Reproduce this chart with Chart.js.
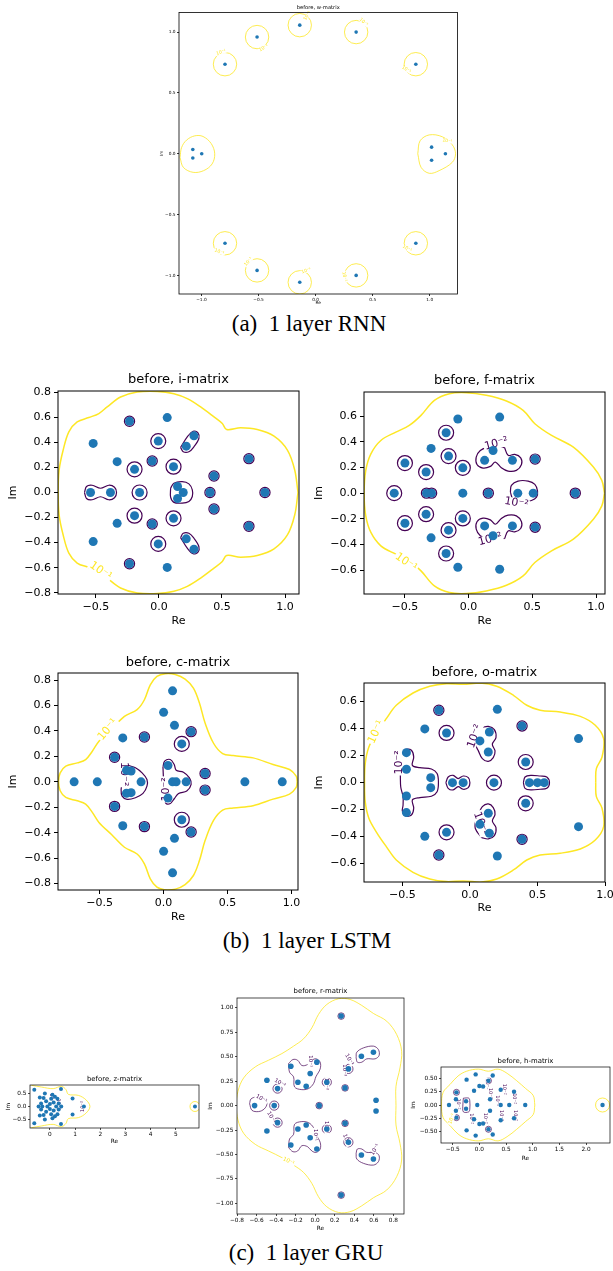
<!DOCTYPE html>
<html><head><meta charset="utf-8">
<script src="https://cdn.jsdelivr.net/npm/chart.js@4.4.1/dist/chart.umd.min.js"></script>
<style>
html,body{margin:0;padding:0;background:#fff;overflow:hidden;width:613px;height:1271px;}
.cap{position:absolute;font-family:'Liberation Serif','Times New Roman',serif;font-size:23px;line-height:23px;white-space:pre;color:#000;transform:translateX(-50%);}
</style></head><body>
<div class="cap" style="left:309px;top:312px">(a)  1 layer RNN</div>
<div class="cap" style="left:307px;top:929px">(b)  1 layer LSTM</div>
<div class="cap" style="left:306px;top:1241px">(c)  1 layer GRU</div>
<script>
// ---------- (a) RNN, w-matrix ----------
const wPoints=[[-0.513,0.959],[-0.139,1.057],[0.355,1.0],[0.878,0.736],[-0.794,0.736],[-1.076,0.035],[-1.076,-0.035],[-0.998,0],[1.016,0.054],[1.016,-0.054],[1.137,0],[-0.794,-0.736],[0.878,-0.736],[-0.513,-0.959],[-0.139,-1.057],[0.355,-1.0]];
const wRingsYellow=[[-0.513,0.959],[-0.139,1.057],[0.355,1.0],[0.878,0.736],[-0.794,0.736],[-0.794,-0.736],[0.878,-0.736],[-0.513,-0.959],[-0.139,-1.057],[0.355,-1.0]];
const wYellowL=[[-1.188,-0.030],[-1.174,0.052],[-1.131,0.112],[-1.059,0.147],[-0.987,0.142],[-0.915,0.084],[-0.884,0],[-0.907,-0.084],[-0.981,-0.139],[-1.073,-0.153],[-1.159,-0.112],[-1.188,-0.030]];
const wYellowR=[[0.895,0],[0.915,0.106],[0.996,0.155],[1.111,0.139],[1.197,0.074],[1.226,0],[1.197,-0.071],[1.082,-0.139],[0.996,-0.161],[0.924,-0.112],[0.895,0]];
const wLabels=[[-0.073,1.136,'10⁻¹',-60,'Y'],[-0.455,0.869,'10⁻¹',-30,'Y'],[-0.829,0.834,'10⁻¹',-20,'Y'],[0.421,1.082,'10⁻¹',40,'Y'],[0.795,0.692,'10⁻¹',30,'Y'],[1.154,0.106,'10⁻¹',10,'Y'],[-0.843,-0.807,'10⁻¹',20,'Y'],[-0.589,-0.888,'10⁻¹',-50,'Y'],[-0.082,-0.962,'10⁻¹',-20,'Y'],[0.254,-1.011,'10⁻¹',80,'Y'],[0.801,-0.779,'10⁻¹',30,'Y']];
const wXTicks=[-1,-0.5,0,0.5,1], wYTicks=[-1,-0.5,0,0.5,1];

// ---------- (b) LSTM, i-matrix ----------
const iPoints=[[-0.521,0.392],[-0.521,-0.392],[-0.233,0.569],[-0.233,-0.569],[0.066,0.598],[0.066,-0.598],[-0.005,0.410],[-0.005,-0.410],[0.217,0.370],[0.217,-0.370],[0.278,0.452],[0.278,-0.452],[-0.331,0.246],[-0.331,-0.246],[-0.053,0.251],[-0.053,-0.251],[-0.193,0.185],[-0.193,-0.185],[0.116,0.206],[0.116,-0.206],[0.437,0.132],[0.437,-0.132],[0.714,0.270],[0.714,-0.270],[-0.542,0],[-0.384,0],[-0.153,0],[0.148,0.048],[0.148,-0.048],[0.193,0],[0.405,0],[0.841,0]];
const iRings=[[-0.005,0.410],[-0.005,-0.410],[-0.193,0.185],[-0.193,-0.185],[0.116,0.206],[0.116,-0.206],[-0.153,0]];
const iTight=[[-0.233,0.569],[-0.233,-0.569],[-0.053,0.251],[-0.053,-0.251],[0.714,0.270],[0.714,-0.270],[0.437,0.132],[0.437,-0.132],[0.405,0],[0.841,0]];
const iYellow=[[1.103,0],[1.077,0.180],[1.019,0.339],[0.913,0.450],[0.780,0.503],[0.648,0.516],[0.537,0.503],[0.503,0.550],[0.437,0.603],[0.331,0.683],[0.225,0.749],[0.119,0.788],[-0.013,0.807],[-0.172,0.802],[-0.304,0.762],[-0.410,0.683],[-0.476,0.630],[-0.556,0.598],[-0.648,0.563],[-0.714,0.484],[-0.759,0.339],[-0.791,0.180],[-0.799,0],[-0.791,-0.180],[-0.759,-0.339],[-0.714,-0.484],[-0.648,-0.563],[-0.556,-0.598],[-0.476,-0.630],[-0.410,-0.683],[-0.304,-0.762],[-0.172,-0.802],[-0.013,-0.807],[0.119,-0.788],[0.225,-0.749],[0.331,-0.683],[0.437,-0.603],[0.503,-0.550],[0.537,-0.503],[0.648,-0.516],[0.780,-0.503],[0.913,-0.450],[1.019,-0.339],[1.077,-0.180],[1.103,0]];
const iPurplePair=[[-0.590,0],[-0.574,0.048],[-0.529,0.058],[-0.463,0.034],[-0.397,0.058],[-0.352,0.042],[-0.336,0],[-0.352,-0.042],[-0.397,-0.058],[-0.463,-0.034],[-0.529,-0.058],[-0.574,-0.048],[-0.590,0]];
const iPurpleCenter=[[0.093,0.034],[0.119,0.074],[0.185,0.087],[0.238,0.069],[0.265,0.021],[0.265,-0.032],[0.238,-0.071],[0.185,-0.085],[0.119,-0.079],[0.093,-0.037],[0.093,0.034]];
const iPurpleUp=[[0.172,0.360],[0.225,0.444],[0.272,0.489],[0.310,0.476],[0.317,0.431],[0.278,0.365],[0.238,0.325],[0.193,0.325],[0.172,0.360]];
const iPurpleDown=[[0.172,-0.360],[0.225,-0.444],[0.272,-0.489],[0.310,-0.476],[0.317,-0.431],[0.278,-0.365],[0.238,-0.325],[0.193,-0.325],[0.172,-0.360]];
const iLabels=[[-0.463,-0.627,'10⁻¹',35,'Y']];
const iXTicks=[-0.5,0,0.5,1], iYTicks=[-0.8,-0.6,-0.4,-0.2,0,0.2,0.4,0.6,0.8];

// ---------- (b) LSTM, f-matrix ----------
const fPoints=[[-0.084,0.577],[-0.084,-0.577],[0.244,0.592],[0.244,-0.592],[-0.176,0.470],[-0.176,-0.470],[-0.294,0.348],[-0.294,-0.348],[-0.157,0.288],[-0.157,-0.288],[-0.499,0.234],[-0.499,-0.234],[-0.333,0.164],[-0.333,-0.164],[-0.045,0.197],[-0.045,-0.197],[0.192,0.332],[0.192,-0.332],[0.126,0.255],[0.126,-0.255],[0.344,0.255],[0.344,-0.255],[0.522,0.265],[0.522,-0.265],[-0.583,0],[-0.33,0],[-0.29,0],[-0.045,0],[0.155,0],[0.386,0],[0.507,0],[0.837,0]];
const fRings=[[-0.176,0.470],[-0.176,-0.470],[-0.157,0.288],[-0.157,-0.288],[-0.499,0.234],[-0.499,-0.234],[-0.333,0.164],[-0.333,-0.164],[-0.045,0.197],[-0.045,-0.197],[-0.583,0]];
const fTight=[[0.155,0],[0.837,0],[0.522,0.265],[0.522,-0.265],[-0.33,0],[-0.29,0]];
const fYellow=[[1.066,0],[1.045,0.099],[0.979,0.203],[0.822,0.358],[0.651,0.449],[0.520,0.540],[0.428,0.644],[0.297,0.717],[0.139,0.761],[-0.018,0.782],[-0.150,0.774],[-0.268,0.722],[-0.373,0.605],[-0.465,0.527],[-0.570,0.475],[-0.688,0.410],[-0.766,0.306],[-0.806,0.177],[-0.819,0],[-0.806,-0.177],[-0.766,-0.306],[-0.688,-0.410],[-0.570,-0.475],[-0.465,-0.527],[-0.373,-0.605],[-0.268,-0.722],[-0.150,-0.774],[-0.018,-0.782],[0.139,-0.761],[0.297,-0.717],[0.428,-0.644],[0.520,-0.540],[0.651,-0.449],[0.822,-0.358],[0.979,-0.203],[1.045,-0.099],[1.066,0]];
const fPurpleUp=[[0.283,0.353],[0.310,0.294],[0.362,0.301],[0.409,0.275],[0.415,0.223],[0.375,0.177],[0.310,0.171],[0.257,0.197],[0.210,0.242],[0.171,0.208],[0.113,0.195],[0.066,0.223],[0.060,0.281],[0.092,0.332],[0.152,0.358],[0.218,0.370],[0.283,0.353]];
const fPurpleDown=[[0.283,-0.353],[0.310,-0.294],[0.362,-0.301],[0.409,-0.275],[0.415,-0.223],[0.375,-0.177],[0.310,-0.171],[0.257,-0.197],[0.210,-0.242],[0.171,-0.208],[0.113,-0.195],[0.066,-0.223],[0.060,-0.281],[0.092,-0.332],[0.152,-0.358],[0.218,-0.370],[0.283,-0.353]];
const fPurpleMid=[[0.328,0.008],[0.336,0.060],[0.388,0.094],[0.467,0.094],[0.520,0.068],[0.541,0.016],[0.533,-0.031],[0.493,-0.057],[0.420,-0.070],[0.350,-0.050],[0.328,0.008]];
const fLabels=[[-0.491,-0.538,'10⁻¹',35,'Y'],[0.218,0.384,'10⁻²',-15,'P'],[0.375,-0.078,'10⁻²',10,'P'],[0.17,-0.36,'10⁻²',-15,'P']];
const fXTicks=[-0.5,0,0.5,1], fYTicks=[-0.6,-0.4,-0.2,0,0.2,0.4,0.6];

// ---------- (b) LSTM, c-matrix ----------
const cPoints=[[0.070,0.715],[0.070,-0.715],[0.0,0.546],[0.0,-0.546],[0.085,0.444],[0.085,-0.444],[0.215,0.394],[0.215,-0.394],[0.142,0.298],[0.142,-0.298],[-0.319,0.345],[-0.319,-0.345],[-0.150,0.352],[-0.150,-0.352],[-0.383,0.193],[-0.383,-0.193],[-0.254,0.085],[-0.254,-0.085],[-0.29,0.09],[-0.29,-0.09],[0.034,0.128],[0.034,-0.128],[0.324,0.065],[0.324,-0.065],[-0.699,0],[-0.518,0],[-0.176,0],[0.070,0],[0.098,0],[0.176,0],[0.635,0],[0.927,0]];
const cRings=[[0.142,0.298],[0.142,-0.298]];
const cTight=[[0.215,0.394],[0.215,-0.394],[-0.150,0.352],[-0.150,-0.352],[-0.383,0.193],[-0.383,-0.193],[0.324,0.065],[0.324,-0.065]];
const cYellow=[[1.044,0],[1.036,0.044],[0.984,0.097],[0.855,0.136],[0.699,0.188],[0.544,0.206],[0.461,0.222],[0.389,0.305],[0.324,0.462],[0.280,0.619],[0.233,0.736],[0.168,0.807],[0.091,0.843],[0.013,0.849],[-0.052,0.828],[-0.104,0.762],[-0.150,0.645],[-0.207,0.567],[-0.306,0.514],[-0.405,0.416],[-0.505,0.319],[-0.557,0.240],[-0.609,0.175],[-0.674,0.149],[-0.764,0.123],[-0.808,0.070],[-0.821,0],[-0.808,-0.070],[-0.764,-0.123],[-0.674,-0.149],[-0.609,-0.175],[-0.557,-0.240],[-0.505,-0.319],[-0.405,-0.416],[-0.306,-0.514],[-0.207,-0.567],[-0.150,-0.645],[-0.104,-0.762],[-0.052,-0.828],[0.013,-0.849],[0.091,-0.843],[0.168,-0.807],[0.233,-0.736],[0.280,-0.619],[0.324,-0.462],[0.389,-0.305],[0.461,-0.222],[0.544,-0.206],[0.699,-0.188],[0.855,-0.136],[0.984,-0.097],[1.036,-0.044],[1.044,0]];
const cPurpleLeft=[[-0.272,0.128],[-0.220,0.110],[-0.168,0.070],[-0.130,0.018],[-0.130,-0.034],[-0.161,-0.091],[-0.220,-0.125],[-0.285,-0.138],[-0.324,-0.112],[-0.332,-0.060],[-0.32,0.0],[-0.30,0.09],[-0.272,0.128]];
const cPurpleMid=[[-0.005,0.117],[0.008,0.162],[0.052,0.175],[0.083,0.136],[0.098,0.091],[0.155,0.076],[0.202,0.031],[0.215,-0.021],[0.181,-0.073],[0.117,-0.091],[0.083,-0.133],[0.052,-0.170],[0.018,-0.170],[0.005,-0.10],[0.0,0.0],[-0.005,0.117]];
const cLabels=[[-0.435,0.410,'10⁻¹',-50,'Y'],[-0.31,0.06,'10⁻²',90,'P'],[0.018,-0.06,'10⁻²',-90,'P']];
const cXTicks=[-0.5,0,0.5,1], cYTicks=[-0.8,-0.6,-0.4,-0.2,0,0.2,0.4,0.6,0.8];

// ---------- (b) LSTM, o-matrix ----------
const oPoints=[[-0.230,0.536],[-0.230,-0.536],[0.203,0.543],[0.203,-0.543],[-0.334,0.398],[-0.334,-0.398],[-0.173,0.368],[-0.173,-0.368],[0.074,0.309],[0.074,-0.309],[0.144,0.375],[0.144,-0.375],[0.136,0.227],[0.136,-0.227],[0.386,0.420],[0.386,-0.420],[0.413,0.153],[0.413,-0.153],[0.804,0.326],[0.804,-0.326],[-0.470,0.222],[-0.470,-0.222],[-0.470,0.099],[-0.470,-0.099],[-0.290,0.037],[-0.290,-0.037],[-0.129,0],[-0.050,0],[0.178,0],[0.441,0],[0.500,0],[0.550,0]];
const oRings=[[-0.173,0.368],[-0.173,-0.368],[0.413,0.153],[0.413,-0.153],[0.178,0]];
const oTight=[[-0.230,0.536],[-0.230,-0.536],[0.386,0.420],[0.386,-0.420]];
const oYellow=[[0.931,0],[0.936,0.104],[0.978,0.190],[0.990,0.326],[0.928,0.425],[0.817,0.491],[0.668,0.523],[0.520,0.536],[0.421,0.573],[0.322,0.647],[0.198,0.714],[0.074,0.738],[-0.050,0.728],[-0.173,0.733],[-0.297,0.714],[-0.421,0.664],[-0.545,0.573],[-0.619,0.474],[-0.690,0.370],[-0.748,0.264],[-0.775,0.141],[-0.780,0],[-0.775,-0.141],[-0.748,-0.264],[-0.690,-0.370],[-0.619,-0.474],[-0.545,-0.573],[-0.421,-0.664],[-0.297,-0.714],[-0.173,-0.733],[-0.050,-0.728],[0.074,-0.738],[0.198,-0.714],[0.322,-0.647],[0.421,-0.573],[0.520,-0.536],[0.668,-0.523],[0.817,-0.491],[0.928,-0.425],[0.990,-0.326],[0.978,-0.190],[0.936,-0.104],[0.931,0]];
const oPurpleLeft=[[-0.515,0.054],[-0.512,-0.032],[-0.495,-0.106],[-0.495,-0.168],[-0.500,-0.210],[-0.475,-0.247],[-0.433,-0.240],[-0.416,-0.190],[-0.426,-0.128],[-0.371,-0.111],[-0.285,-0.101],[-0.243,-0.067],[-0.233,0],[-0.243,0.067],[-0.285,0.101],[-0.371,0.111],[-0.426,0.128],[-0.416,0.190],[-0.433,0.240],[-0.475,0.247],[-0.500,0.227],[-0.510,0.170],[-0.515,0.054]];
const oPurplePair=[[-0.178,0],[-0.161,0.042],[-0.124,0.054],[-0.087,0.030],[-0.050,0.049],[-0.012,0.037],[0,0],[-0.012,-0.037],[-0.050,-0.049],[-0.087,-0.030],[-0.124,-0.054],[-0.161,-0.042],[-0.178,0]];
const oPurpleTriple=[[0.396,0],[0.408,0.042],[0.450,0.054],[0.520,0.049],[0.569,0.042],[0.589,0],[0.569,-0.042],[0.520,-0.049],[0.450,-0.054],[0.408,-0.042],[0.396,0]];
const oPurpleUp=[[0.087,0.407],[0.136,0.417],[0.181,0.393],[0.193,0.333],[0.166,0.284],[0.186,0.235],[0.173,0.185],[0.136,0.158],[0.092,0.178],[0.062,0.237],[0.045,0.272],[0.040,0.340],[0.087,0.407]];
const oPurpleDown=[[0.087,-0.407],[0.136,-0.417],[0.181,-0.393],[0.193,-0.333],[0.166,-0.284],[0.186,-0.235],[0.173,-0.185],[0.136,-0.158],[0.092,-0.178],[0.062,-0.237],[0.045,-0.272],[0.040,-0.340],[0.087,-0.407]];
const oLabels=[[-0.693,0.375,'10⁻¹',-65,'Y'],[-0.525,0.15,'10⁻²',-90,'P'],[0.037,0.343,'10⁻²',-70,'P'],[0.079,-0.304,'10⁻²',70,'P']];
const oXTicks=[-0.5,0,0.5,1], oYTicks=[-0.6,-0.4,-0.2,0,0.2,0.4,0.6];

// ---------- (c) GRU, z-matrix ----------
const zPoints=[[-0.62,0.65],[-0.62,-0.65],[0.44,0.68],[0.44,-0.68],[0.90,0.31],[0.90,-0.31],[1.35,0],[5.76,0],[-0.45,0],[-0.35,0.12],[-0.35,-0.12],[-0.25,0.33],[-0.25,-0.33],[-0.2,0.5],[-0.2,-0.5],[-0.15,0.2],[-0.15,-0.2],[-0.1,0],[0.0,0.1],[0.0,-0.1],[0.05,0.3],[0.05,-0.3],[0.1,0.45],[0.1,-0.45],[0.15,0.15],[0.15,-0.15],[0.25,0],[0.3,0.3],[0.3,-0.3],[0.35,0.12],[0.35,-0.12],[0.45,0],[-0.3,0],[-0.4,0.35],[-0.4,-0.35],[0.2,0.38],[0.2,-0.38]];
const zRingsYellow=[[5.76,0]];
const zYellow=[[-0.74,0.82],[-0.33,0.75],[0.13,0.69],[0.46,0.78],[0.64,0.65],[0.73,0.47],[1.13,0.43],[1.43,0.26],[1.59,0],[1.43,-0.26],[1.13,-0.43],[0.73,-0.47],[0.64,-0.65],[0.46,-0.78],[0.13,-0.69],[-0.33,-0.75],[-0.74,-0.82]];
const zLabels=[[0.05,0.3,'10⁻²',90,'P'],[0.35,0.1,'10⁻²',90,'P'],[1.3,0,'10⁻²',-90,'P']];
const zXTicks=[0,1,2,3,4,5], zYTicks=[-0.5,0,0.5];

// ---------- (c) GRU, r-matrix ----------
const rPoints=[[0.266,0.915],[0.266,-0.915],[0.596,0.546],[0.596,-0.546],[0.473,0.505],[0.473,-0.505],[0.340,0.375],[0.340,-0.375],[-0.249,0.403],[-0.249,-0.403],[0.017,0.444],[0.017,-0.444],[-0.051,0.328],[-0.051,-0.328],[-0.177,0.239],[-0.177,-0.239],[-0.092,0.198],[-0.092,-0.198],[0.119,0.239],[0.119,-0.239],[0.306,0.181],[0.306,-0.181],[-0.494,0.259],[-0.494,-0.259],[-0.385,0.174],[-0.385,-0.174],[0.623,0.055],[0.623,-0.055],[-0.620,0],[-0.419,0],[0.041,0]];
const rRings=[[0.340,0.375],[0.340,-0.375],[0.119,0.239],[0.119,-0.239],[-0.385,0.174],[-0.385,-0.174],[-0.419,0]];
const rTight=[[0.266,0.915],[0.266,-0.915],[0.306,0.181],[0.306,-0.181],[0.041,0]];
const rYellow=[[0.827,0],[0.827,0.198],[0.868,0.386],[0.885,0.556],[0.834,0.727],[0.732,0.863],[0.596,0.942],[0.477,1.024],[0.357,1.085],[0.238,1.092],[0.119,1.034],[0.034,0.932],[-0.034,0.795],[-0.119,0.683],[-0.221,0.608],[-0.340,0.532],[-0.477,0.464],[-0.613,0.396],[-0.732,0.283],[-0.790,0.147],[-0.807,0],[-0.790,-0.147],[-0.732,-0.283],[-0.613,-0.396],[-0.477,-0.464],[-0.340,-0.532],[-0.221,-0.608],[-0.119,-0.683],[-0.034,-0.795],[0.034,-0.932],[0.119,-1.034],[0.238,-1.092],[0.357,-1.085],[0.477,-1.024],[0.596,-0.942],[0.732,-0.863],[0.834,-0.727],[0.885,-0.556],[0.868,-0.386],[0.827,-0.198],[0.827,0]];
const rPurpleUR=[[0.419,0.488],[0.426,0.546],[0.494,0.590],[0.596,0.608],[0.647,0.573],[0.654,0.512],[0.613,0.478],[0.528,0.478],[0.477,0.444],[0.432,0.444],[0.419,0.488]];
const rPurpleLR=[[0.419,-0.488],[0.426,-0.546],[0.494,-0.590],[0.596,-0.608],[0.647,-0.573],[0.654,-0.512],[0.613,-0.478],[0.528,-0.478],[0.477,-0.444],[0.432,-0.444],[0.419,-0.488]];
const rPurpleUL=[[-0.272,0.430],[-0.228,0.471],[-0.180,0.464],[-0.136,0.410],[-0.078,0.420],[-0.034,0.464],[0.010,0.478],[0.051,0.444],[0.051,0.375],[0.007,0.294],[-0.017,0.225],[-0.068,0.174],[-0.143,0.164],[-0.211,0.191],[-0.221,0.294],[-0.262,0.341],[-0.272,0.430]];
const rPurpleLL=[[-0.272,-0.430],[-0.228,-0.471],[-0.180,-0.464],[-0.136,-0.410],[-0.078,-0.420],[-0.034,-0.464],[0.010,-0.478],[0.051,-0.444],[0.051,-0.375],[0.007,-0.294],[-0.017,-0.225],[-0.068,-0.174],[-0.143,-0.164],[-0.211,-0.191],[-0.221,-0.294],[-0.262,-0.341],[-0.272,-0.430]];
const rPurpleLeft=[[-0.671,0.020],[-0.657,0.068],[-0.596,0.089],[-0.528,0.078],[-0.494,0.020],[-0.521,-0.034],[-0.579,-0.061],[-0.647,-0.048],[-0.671,0.020]];
const rLabels=[[-0.272,-0.570,'10⁻¹',25,'Y'],[0.35,0.47,'10⁻¹',60,'P'],[0.613,-0.45,'10⁻¹',-60,'P'],[-0.051,0.454,'10⁻¹',90,'P'],[0.0,-0.30,'10⁻¹',90,'P'],[-0.55,0.07,'10⁻¹',30,'P'],[-0.36,0.23,'10⁻²',30,'P'],[-0.45,-0.12,'10⁻²',60,'P'],[0.30,0.36,'10⁻²',90,'P'],[0.32,-0.35,'10⁻¹',70,'P'],[0.12,0.22,'10⁻²',90,'P'],[0.12,-0.22,'10⁻²',90,'P']];
const rXTicks=[-0.8,-0.6,-0.4,-0.2,0,0.2,0.4,0.6,0.8], rYTicks=[-1,-0.75,-0.5,-0.25,0,0.25,0.5,0.75,1];

// ---------- (c) GRU, h-matrix ----------
const hPoints=[[-0.07,0.58],[-0.07,-0.58],[0.25,0.56],[0.25,-0.56],[-0.24,0.48],[-0.24,-0.48],[0.17,0.46],[0.17,-0.46],[0.07,0.35],[0.07,-0.35],[0.0,0.36],[0.0,-0.36],[-0.10,0.27],[-0.10,-0.27],[0.40,0.29],[0.40,-0.29],[0.65,0.25],[0.65,-0.25],[-0.43,0.24],[-0.43,-0.24],[-0.44,0.11],[-0.44,-0.11],[-0.25,0.07],[-0.25,-0.07],[0.20,0.11],[0.20,-0.11],[-0.57,0],[-0.04,0],[0.40,0],[0.56,0],[0.86,0],[2.31,0]];
const hTight=[[0.17,0.46],[0.17,-0.46],[-0.43,0.24],[-0.43,-0.24]];
const hRingsYellow=[[2.31,0]];
const hYellow=[[1.04,0],[1.01,0.18],[0.87,0.31],[0.70,0.46],[0.52,0.60],[0.35,0.68],[0.17,0.64],[-0.02,0.68],[-0.24,0.64],[-0.40,0.55],[-0.55,0.39],[-0.68,0.24],[-0.71,0],[-0.68,-0.24],[-0.55,-0.39],[-0.40,-0.55],[-0.24,-0.64],[-0.02,-0.68],[0.17,-0.64],[0.35,-0.68],[0.52,-0.60],[0.70,-0.46],[0.87,-0.31],[1.01,-0.18],[1.04,0]];
const hPurpleBox=[[-0.30,0.13],[-0.20,0.13],[-0.18,0.08],[-0.18,-0.08],[-0.20,-0.13],[-0.30,-0.13],[-0.31,0],[-0.30,0.13]];
const hLabels=[[-0.52,-0.26,'10⁻¹',-70,'Y'],[0.15,0.40,'10⁻²',90,'P'],[0.2,0.22,'10⁻²',90,'P'],[0.33,0.08,'10⁻²',90,'P'],[0.47,0.30,'10⁻²',90,'P'],[0.65,0.12,'10⁻²',90,'P'],[-0.40,0.02,'10⁻²',90,'P'],[0.12,-0.25,'10⁻²',90,'P'],[0.42,-0.20,'10⁻²',90,'P'],[0.68,-0.20,'10⁻²',90,'P'],[-0.15,-0.26,'10⁻²',90,'P']];
const hXTicks=[-0.5,0,0.5,1,1.5,2], hYTicks=[-0.5,-0.25,0,0.25,0.5];

// ---------- drawing ----------
const BLUE='#1f77b4', YEL='#fde725', PUR='#440154', FONT='"DejaVu Sans", sans-serif';
function P(a){return a.map(p=>({x:p[0],y:p[1]}));}
function fmt(v,d){return (v<0?'\u2212':'')+Math.abs(v).toFixed(d);}

function makeChart(s){
  const [x0,y0,x1,y1]=s.box, p=s.pad;
  const left=x0-p.l, top=y0-p.t;
  const W=Math.round((x1-x0)+p.l+p.r), H=Math.round((y1-y0)+p.t+p.b);
  const wrap=document.createElement('div');
  wrap.style.cssText=`position:absolute;left:${left}px;top:${top}px;width:${W}px;height:${H}px;`;
  const cv=document.createElement('canvas');
  cv.width=W; cv.height=H; cv.style.width=W+'px'; cv.style.height=H+'px';
  wrap.appendChild(cv); document.body.appendChild(wrap);
  const ds=[];
  ds.push({data:P(s.points),pointRadius:s.pr,pointBackgroundColor:BLUE,pointBorderColor:BLUE,pointBorderWidth:0,showLine:false,order:0});
  (s.rings||[]).forEach(r=>ds.push({data:P(r.pts),pointRadius:r.r,pointBackgroundColor:'rgba(0,0,0,0)',pointBorderColor:r.c,pointBorderWidth:(r.c===PUR?s.plw:s.lw),showLine:false,order:1}));
  (s.lines||[]).forEach(l=>ds.push({data:P(l.pts),showLine:true,borderColor:l.c,borderWidth:(l.c===PUR?s.plw:s.lw),pointRadius:0,tension:0.35,fill:false,order:2}));
  const axis=(ticks,dec,isX)=>({
    type:'linear',bounds:'data',min:(isX?s.xr:s.yr)[0],max:(isX?s.xr:s.yr)[1],
    afterBuildTicks:ax=>{ax.ticks=ticks.map(v=>({value:v}));},
    afterFit:ax=>{if(isX)ax.height=p.b;else ax.width=p.l;},
    ticks:{autoSkip:false,maxRotation:0,minRotation:0,padding:s.tp,color:'#000',font:{family:FONT,size:s.tf},callback:v=>fmt(v,dec)},
    grid:{display:true,drawOnChartArea:false,drawTicks:true,tickLength:s.tl,color:'#000',lineWidth:s.fw,tickWidth:s.fw},
    border:{display:false}
  });
  const labelPlugin={id:'lab',
    beforeDatasetDraw(chart,args){
      if(args.index!==0)return;
      const ctx=chart.ctx, xs=chart.scales.x, ys=chart.scales.y;
      (s.labels||[]).forEach(L=>{
        const px=xs.getPixelForValue(L[0]), py=ys.getPixelForValue(L[1]);
        ctx.save(); ctx.translate(px,py); ctx.rotate(L[3]*Math.PI/180);
        ctx.font=`${s.lf}px ${FONT}`; const w=ctx.measureText(L[2]).width;
        ctx.fillStyle='#fff'; ctx.fillRect(-w/2-1,-s.lf*0.45,w+2,s.lf*0.9);
        ctx.fillStyle=L[4]==='Y'?YEL:PUR; ctx.textAlign='center'; ctx.textBaseline='middle';
        ctx.fillText(L[2],0,0); ctx.restore();
      });
    },
    afterDatasetsDraw(chart){
      const ctx=chart.ctx,a=chart.chartArea;
      ctx.save(); ctx.strokeStyle='#000'; ctx.lineWidth=s.fw;
      ctx.strokeRect(a.left,a.top,a.right-a.left,a.bottom-a.top); ctx.restore();
    },
    afterDraw(chart){
      const ctx=chart.ctx,a=chart.chartArea,cx=(a.left+a.right)/2;
      ctx.save(); ctx.fillStyle='#000'; ctx.textAlign='center'; ctx.textBaseline='middle';
      ctx.font=`${s.ttf}px ${FONT}`; ctx.fillText(s.title,cx,a.top-s.tdy);
      ctx.font=`${s.tf}px ${FONT}`; ctx.fillText('Re',cx,a.bottom+s.xdy);
      ctx.translate(a.left-s.ydx,(a.top+a.bottom)/2); ctx.rotate(-Math.PI/2); ctx.fillText('Im',0,0);
      ctx.restore();
    }
  };
  new Chart(cv,{type:'scatter',data:{datasets:ds},
    options:{responsive:false,animation:false,events:[],
      layout:{padding:{left:0,top:p.t,right:p.r,bottom:0}},
      plugins:{legend:{display:false},tooltip:{enabled:false},title:{display:false}},
      scales:{x:axis(s.xt,s.xd,true),y:axis(s.yt,s.yd,false)}},
    plugins:[labelPlugin]});
}

const lstm={pad:{l:50,t:26,r:14,b:36},tf:11,ttf:13,tl:4,tp:3,fw:1,lw:1.5,plw:1.2,pr:4.5,lf:11,xdy:27,ydx:44.7};
const gru={tf:5.8,ttf:6.9,tl:2,tp:1.5,fw:0.7,lw:0.8,plw:0.7,lf:5};

makeChart({box:[179,11,462,294],pad:{l:24,t:11,r:8,b:14},xr:[-1.197,1.243],yr:[-1.153,1.161],xt:wXTicks,yt:wYTicks,xd:1,yd:1,
  tf:4.3,ttf:5.2,tl:2,tp:1.5,fw:0.8,lw:0.8,plw:0.7,pr:1.8,lf:4.5,tdy:5,xdy:9,ydx:17.3,title:'before, w-matrix',
  points:wPoints,rings:[{pts:wRingsYellow,r:11.7,c:YEL}],lines:[{pts:wYellowL,c:YEL},{pts:wYellowR,c:YEL}],labels:wLabels});

makeChart(Object.assign({},lstm,{box:[57.7,391,298.3,594],xr:[-0.8,1.111],yr:[-0.81,0.81],xt:iXTicks,yt:iYTicks,xd:1,yd:1,tdy:11,title:'before, i-matrix',
  points:iPoints,rings:[{pts:iRings,r:7.5,c:PUR},{pts:iTight,r:5.1,c:PUR}],
  lines:[{pts:iYellow,c:YEL},{pts:iPurplePair,c:PUR},{pts:iPurpleCenter,c:PUR},{pts:iPurpleUp,c:PUR},{pts:iPurpleDown,c:PUR}],labels:iLabels}));

makeChart(Object.assign({},lstm,{box:[363.7,391.7,604.3,593.3],xr:[-0.82,1.07],yr:[-0.785,0.787],xt:fXTicks,yt:fYTicks,xd:1,yd:1,tdy:11,title:'before, f-matrix',
  points:fPoints,rings:[{pts:fRings,r:7.5,c:PUR},{pts:fTight,r:5.1,c:PUR}],
  lines:[{pts:fYellow,c:YEL},{pts:fPurpleUp,c:PUR},{pts:fPurpleDown,c:PUR},{pts:fPurpleMid,c:PUR}],labels:fLabels}));

makeChart(Object.assign({},lstm,{box:[57.7,673.3,297.7,890.7],xr:[-0.825,1.05],yr:[-0.85,0.855],xt:cXTicks,yt:cYTicks,xd:1,yd:1,tdy:10,title:'before, c-matrix',
  points:cPoints,rings:[{pts:cRings,r:7.5,c:PUR},{pts:cTight,r:5.1,c:PUR}],
  lines:[{pts:cYellow,c:YEL},{pts:cPurpleLeft,c:PUR},{pts:cPurpleMid,c:PUR}],labels:cLabels}));

makeChart(Object.assign({},lstm,{box:[363.7,682.7,604.3,881.7],xr:[-0.784,1.0],yr:[-0.736,0.738],xt:oXTicks,yt:oYTicks,xd:1,yd:1,tdy:10.4,xdy:26.3,title:'before, o-matrix',
  points:oPoints,rings:[{pts:oRings,r:7.5,c:PUR},{pts:oTight,r:5.1,c:PUR}],
  lines:[{pts:oYellow,c:YEL},{pts:oPurpleLeft,c:PUR},{pts:oPurplePair,c:PUR},{pts:oPurpleTriple,c:PUR},{pts:oPurpleUp,c:PUR},{pts:oPurpleDown,c:PUR}],labels:oLabels}));

makeChart(Object.assign({},gru,{box:[30,1084.7,199,1127.3],pad:{l:28,t:12,r:8,b:20},xr:[-0.79,5.92],yr:[-0.83,0.83],xt:zXTicks,yt:zYTicks,xd:0,yd:1,pr:2,tdy:5.7,xdy:13.7,ydx:22,title:'before, z-matrix',
  points:zPoints,rings:[{pts:zRingsYellow,r:5,c:YEL}],lines:[{pts:zYellow,c:YEL}],labels:zLabels}));

makeChart(Object.assign({},gru,{box:[236.7,998.3,404,1214.3],pad:{l:32,t:12,r:8,b:20},xr:[-0.8,0.909],yr:[-1.108,1.10],xt:rXTicks,yt:rYTicks,xd:1,yd:2,pr:2.8,lf:5.5,tdy:6.3,xdy:14,ydx:26.7,title:'before, r-matrix',
  points:rPoints,rings:[{pts:rRings,r:4.6,c:PUR},{pts:rTight,r:3.3,c:PUR}],
  lines:[{pts:rYellow,c:YEL},{pts:rPurpleUR,c:PUR},{pts:rPurpleLR,c:PUR},{pts:rPurpleUL,c:PUR},{pts:rPurpleLL,c:PUR},{pts:rPurpleLeft,c:PUR}],labels:rLabels}));

makeChart(Object.assign({},gru,{box:[441,1067.3,610,1143],pad:{l:32,t:12,r:8,b:20},xr:[-0.72,2.45],yr:[-0.72,0.72],xt:hXTicks,yt:hYTicks,xd:1,yd:2,pr:2.2,tdy:5.6,xdy:15,ydx:28,title:'before, h-matrix',
  points:hPoints,rings:[{pts:hRingsYellow,r:7,c:YEL},{pts:hTight,r:3.0,c:PUR}],
  lines:[{pts:hYellow,c:YEL},{pts:hPurpleBox,c:PUR}],labels:hLabels}));
</script>
</body></html>
